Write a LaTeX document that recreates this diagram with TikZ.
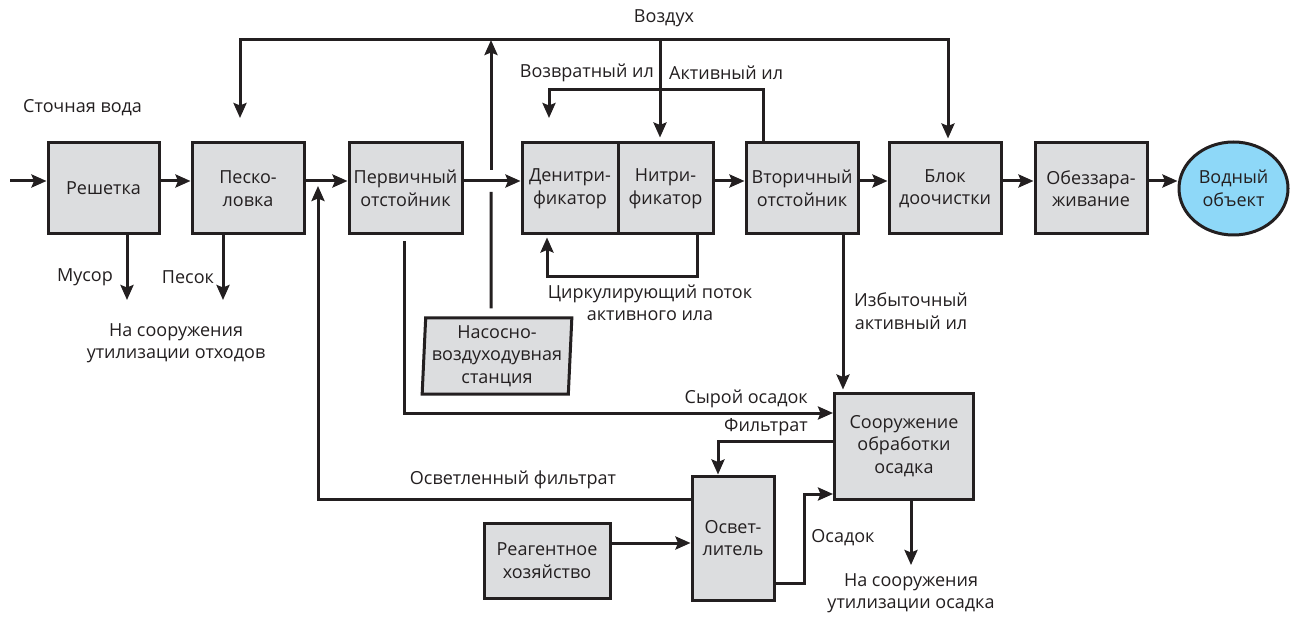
\documentclass[tikz,border=0pt]{standalone}
\usepackage{fontspec}
\setmainfont{Open Sans}
\usetikzlibrary{arrows.meta,shapes.geometric}
\definecolor{ink}{HTML}{231F20}
\definecolor{boxfill}{HTML}{DCDDDF}
\definecolor{water}{HTML}{8ED8F8}
\newcommand\dfont{\fontsize{18}{22.5}\selectfont}
\begin{document}
\begin{tikzpicture}[x=1pt,y=-1pt,
  box/.style={draw=ink, fill=boxfill, line width=3pt, align=center, inner sep=0pt, font=\dfont, text=ink, minimum height=91pt},
  arr/.style={-{Stealth[length=15pt,width=13pt,inset=2.5pt]}, draw=ink, line width=3pt},
  ln/.style={draw=ink, line width=3pt},
  lbl/.style={font=\dfont, text=ink, inner sep=0pt, align=center}]
\useasboundingbox (0,0) rectangle (1290,617);
\fill[white] (0,0) rectangle (1290,617);

% main row
\node[box, minimum width=111pt] (resh) at (103.5,188.5) {Решетка};
\node[box, minimum width=112pt] (pesk) at (248,188.5) {Песко-\\ловка};
\node[box, minimum width=113pt] (perv) at (405.5,188.5) {Первичный\\отстойник};
\node[box, minimum width=96pt] (den) at (570,188.5) {Денитри-\\фикатор};
\node[box, minimum width=95pt] (nit) at (665.5,188.5) {Нитри-\\фикатор};
\node[box, minimum width=112pt] (vtor) at (802,188.5) {Вторичный\\отстойник};
\node[box, minimum width=112pt] (blok) at (945,188.5) {Блок\\доочистки};
\node[box, minimum width=112pt] (obez) at (1091,188.5) {Обеззара-\\живание};
\node[box, ellipse, fill=water, minimum width=109pt, minimum height=93pt] (vodn) at (1233.5,188.5) {Водный\\объект};

% lower nodes
\node[box, trapezium, trapezium left angle=87, trapezium right angle=93, trapezium stretches=true, minimum width=150pt, minimum height=76pt] (nas) at (497,356) {Насосно-\\воздуходувная\\станция};
\node[box, minimum width=139pt, minimum height=106pt] (sooruzh) at (904,446) {Сооружение\\обработки\\осадка};
\node[box, minimum width=82pt, minimum height=124pt] (osvet) at (733,538) {Освет-\\литель};
\node[box, minimum width=126pt, minimum height=75pt] (reag) at (547,560.5) {Реагентное\\хозяйство};

% coordinates
\coordinate (in) at (10,181);
\coordinate (airTopL) at (240,40);
\coordinate (airTopR) at (948,40);
\coordinate (airUp) at (491,40);
\coordinate (airNit) at (660,40);

% main flow
\draw[arr] (in) -- (resh.west |- in);
\draw[arr] (resh.east |- in) -- (pesk.west |- in);
\draw[arr] (pesk.east |- in) -- (perv.west |- in);
\draw[arr] (perv.east |- in) -- (den.west |- in);
\draw[arr] (nit.east |- in) -- (vtor.west |- in);
\draw[arr] (vtor.east |- in) -- (blok.west |- in);
\draw[arr] (blok.east |- in) -- (obez.west |- in);
\draw[arr] (obez.east |- in) -- (vodn.west |- in);

% air
\draw[ln] ([xshift=-6pt,yshift=8pt]nas.north) -- (491,192);
\draw[arr] (491,170) -- (airUp);
\draw[ln, line cap=rect] (airTopL) -- (airTopR);
\draw[arr] (airTopL) -- (240,118);
\draw[arr] (airTopR) -- ([xshift=3pt,yshift=3pt]blok.north);
\draw[arr] (airNit) -- ([xshift=-5.5pt,yshift=4pt]nit.north);

% return sludge
\draw[arr] ([xshift=-39pt]vtor.north) -- (763,90) -- (549,90) -- (549,118);
% circulating
\draw[arr] ([xshift=31.5pt]nit.south) -- (697,277) -- (547,277) -- ([xshift=-23pt,yshift=-2pt]den.south);
% waste
\draw[arr] ([xshift=23.5pt]resh.south) -- (127,300);
\draw[arr] ([xshift=-25pt]pesk.south) -- (223,300);
% excess sludge
\draw[arr] ([xshift=41pt]vtor.south) -- ([xshift=-61pt,yshift=2pt]sooruzh.north);
% raw sludge
\draw[arr] ([xshift=-1.5pt,yshift=-6pt]perv.south) |- ([yshift=33pt]sooruzh.west);
% filtrate
\draw[arr] ([yshift=5pt]sooruzh.west) -| ([xshift=-15pt]osvet.north);
% clarified filtrate
\draw[arr] ([yshift=39pt]osvet.west) -| (318,186);
% sediment
\draw[arr] ([yshift=-45pt]osvet.east) -| (804,494) -- ([yshift=-48pt]sooruzh.west);
% reagent
\draw[arr] ([yshift=17.5pt]reag.east) -- ([yshift=-5pt]osvet.west);
% sludge out
\draw[arr] ([xshift=7pt]sooruzh.south) -- (911,565);

% labels
\node[lbl, anchor=west] (l1) at (23,108) {Сточная вода};
\node[lbl] (l2) at (664,18) {Воздух};
\node[lbl, anchor=east] (l3) at (654,73) {Возвратный ил};
\node[lbl, anchor=west] (l4) at (669,73) {Активный ил};
\node[lbl] (l5) at (85,277) {Мусор};
\node[lbl] (l6) at (188,277) {Песок};
\node[lbl] (l7) at (176,343) {На сооружения\\утилизации отходов};
\node[lbl] (l8) at (650,303) {Циркулирующий поток\\активного ила};
\node[lbl] (l9) at (911,311) {Избыточный\\активный ил};
\node[lbl, anchor=east] (l10) at (808,399) {Сырой осадок};
\node[lbl, anchor=east] (l11) at (808,427) {Фильтрат};
\node[lbl] (l12) at (513,480) {Осветленный фильтрат};
\node[lbl] (l13) at (843,538) {Осадок};
\node[lbl] (l14) at (911,593) {На сооружения\\утилизации осадка};
\end{tikzpicture}
\end{document}
